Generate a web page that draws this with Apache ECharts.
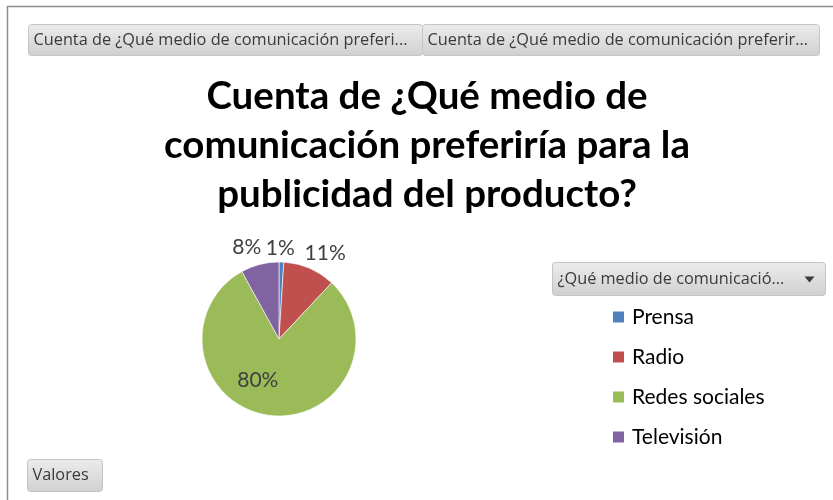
<!DOCTYPE html>
<html>
<head>
<meta charset="utf-8">
<script src="https://cdn.jsdelivr.net/npm/echarts@6/dist/echarts.min.js"></script>
<style>
  html, body { margin: 0; padding: 0; background: #ffffff; }
  #chart { width: 833px; height: 500px; }
</style>
</head>
<body>
<div id="chart"></div>
<script>
// Survey answers: preferred media channel for advertising the product
const categories = ['Prensa', 'Radio', 'Redes sociales', 'Televisión'];
const shares = [1, 11, 80, 8];
const colors = ['#4F81BD', '#C0504D', '#9BBB59', '#8064A2'];

const titleText = 'Cuenta de ¿Qué medio de\ncomunicación preferiría para la\npublicidad del producto?';
const fieldButtons = [
  'Cuenta de ¿Qué medio de comunicación preferi...',
  'Cuenta de ¿Qué medio de comunicación preferir...'
];
const legendHeader = '¿Qué medio de comunicació...';
const axisButton = 'Valores';

// per-slice label placement tweaks
const labelTweaks = [
  { position: 'outside', offset: [-21, -4] },
  { position: 'outside', offset: [-14, -6] },
  { position: 'inside', offset: [-16, 0] },
  { position: 'outside', offset: [9, -7] }
];

const chart = echarts.init(document.getElementById('chart'), null, { renderer: 'canvas' });

const btnFill = new echarts.graphic.LinearGradient(0, 0, 0, 1, [
  { offset: 0, color: '#ececec' },
  { offset: 1, color: '#d0d0d0' }
]);

function fieldButton(x, y, w, h, text, extra) {
  const children = [
    {
      type: 'rect',
      shape: { x: 0, y: 0, width: w, height: h, r: 3 },
      style: { fill: btnFill, stroke: '#c4c4c4', lineWidth: 1 }
    },
    {
      type: 'text',
      x: 5, y: h / 2,
      style: {
        text: text,
        fill: '#3a3a3a',
        font: '16.3px "Open Sans", sans-serif',
        verticalAlign: 'middle'
      }
    }
  ];
  if (extra) children.push(extra);
  return { type: 'group', x: x, y: y, children: children };
}

chart.setOption({
  animation: false,
  color: colors,
  title: {
    text: titleText,
    left: 422,
    top: 67,
    textAlign: 'center',
    textStyle: {
      fontFamily: 'Lato',
      fontWeight: 'bold',
      fontSize: 38.5,
      lineHeight: 49,
      color: '#000000'
    }
  },
  legend: {
    orient: 'vertical',
    left: 606,
    top: 300,
    icon: 'rect',
    itemWidth: 13,
    itemHeight: 13,
    itemGap: 16,
    data: categories,
    textStyle: {
      fontFamily: 'Lato',
      fontSize: 21,
      lineHeight: 24,
      color: '#000000',
      padding: [0, 0, 0, 2]
    }
  },
  graphic: [
    {
      type: 'polyline',
      shape: { points: [[7.5, 500], [7.5, 6.5], [833, 6.5]] },
      style: { stroke: '#8c8c8c', lineWidth: 1.5, fill: null }
    },
    fieldButton(28.5, 24.5, 394, 31, fieldButtons[0]),
    fieldButton(422.5, 24.5, 397, 31, fieldButtons[1]),
    fieldButton(552.5, 262.5, 273, 33, legendHeader, {
      type: 'polygon',
      shape: { points: [[252, 14], [262, 14], [257, 20]] },
      style: { fill: '#3a3a3a' }
    }),
    fieldButton(27.5, 459.5, 75, 32, axisButton)
  ],
  series: [
    {
      type: 'pie',
      center: [279, 339],
      radius: 77,
      startAngle: 90,
      clockwise: true,
      avoidLabelOverlap: false,
      itemStyle: { borderColor: '#ffffff', borderWidth: 0.6 },
      label: {
        show: true,
        formatter: '{d}%',
        fontFamily: 'Lato',
        fontSize: 21,
        color: '#404040'
      },
      labelLine: { show: false, length: 10, length2: 0 },
      emphasis: { disabled: true },
      data: categories.map((name, i) => ({
        name: name,
        value: shares[i],
        label: labelTweaks[i]
      }))
    }
  ]
});
</script>
</body>
</html>
